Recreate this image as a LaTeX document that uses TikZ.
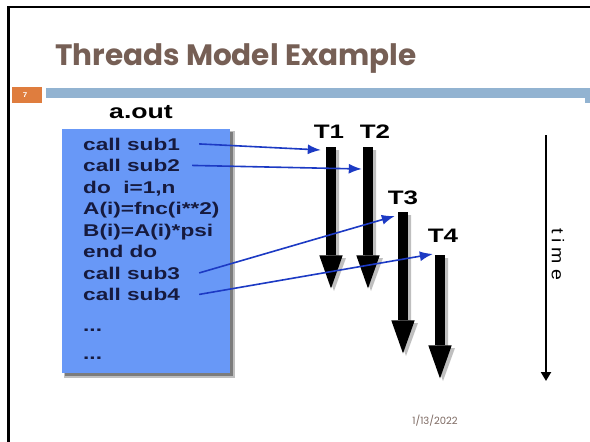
\documentclass[tikz,border=0pt]{standalone}
\usepackage{fontspec}
\setmainfont{Liberation Sans}
\newfontfamily\codefont[FakeStretch=1.33]{Liberation Sans}
\newfontfamily\plainfont[FakeStretch=1.15]{Liberation Sans}
\newfontfamily\titlefont{Poppins}
\usetikzlibrary{arrows.meta,calc}
\definecolor{titlebrown}{RGB}{118,95,85}
\definecolor{datebrown}{RGB}{125,105,98}
\definecolor{orangeseven}{RGB}{223,125,62}
\definecolor{barblue}{RGB}{146,179,209}
\definecolor{boxblue}{RGB}{104,152,247}
\definecolor{codenavy}{RGB}{22,26,62}
\definecolor{callblue}{RGB}{28,58,196}
\tikzset{
  codeline/.style={anchor=base west, inner sep=0pt, text=codenavy,
    font=\codefont\bfseries\fontsize{17}{20}\selectfont},
  tlabel/.style={inner sep=0pt, text=black,
    font=\codefont\bfseries\fontsize{19.5}{22}\selectfont},
  callline/.style={draw=callblue, line width=1.6pt,
    -{Latex[length=13pt,width=10pt]}},
  shaft/.style={fill=black, inner sep=0pt, minimum width=10pt, anchor=north},
  shaftshadow/.style={fill=black, opacity=0.25},
}
\begin{document}
\begin{tikzpicture}[x=1pt,y=-1pt]
\useasboundingbox (0,0) rectangle (590,442);
\fill[white] (0,0) rectangle (590,442);
% slide frame
\draw[line width=2.5pt] (8.5,442) -- (8.5,7) -- (590,7);
% title
\node[anchor=base west, inner sep=0pt, text=titlebrown,
  font=\titlefont\bfseries\fontsize{29.5}{33}\selectfont] (title) at (55,65) {Threads Model Example};
% slide number and bar
\fill[orangeseven] (12,87) rectangle (42,103);
\node[text=white, font=\plainfont\bfseries\fontsize{7}{8}\selectfont] (num) at (25,95) {7};
\fill[barblue] (46,88) rectangle (590,98);
\fill[barblue] (585,98) rectangle (590,103);
% program box
\fill[black, opacity=0.25] (64,131) rectangle (235,378);
\fill[black, opacity=0.35] (65,132) rectangle (233,376);
\node[fill=boxblue, inner sep=0pt, anchor=north west, minimum width=168pt, minimum height=244pt] (box) at (62,129) {};
\node[anchor=base, inner sep=0pt, text=black,
  font=\codefont\bfseries\fontsize{20}{24}\selectfont] (aout) at (141,118) {a.out};
\node[codeline] (c1) at (83,150) {call sub1};
\node[codeline] (c2) at (83,171.5) {call sub2};
\node[codeline] (c3) at (83,193) {do~ i=1,n};
\node[codeline] (c4) at (83,214.5) {A(i)=fnc(i**2)};
\node[codeline] (c5) at (83,236) {B(i)=A(i)*psi};
\node[codeline] (c6) at (83,257.5) {end do};
\node[codeline] (c7) at (83,279) {call sub3};
\node[codeline] (c8) at (83,300.5) {call sub4};
\node[codeline] (c9) at (83,331) {...};
\node[codeline] (c10) at (83,359) {...};
% thread arrows: shadows
\foreach \x/\yt/\yh in {331/147/255, 368/147/255, 403/212/320, 440/255/345}{
  \fill[shaftshadow] (\x-3,\yt+3) -- (\x+8,\yt+3) -- (\x+8,\yh+3) -- (\x+15,\yh+3)
    -- (\x+3,\yh+36) -- (\x-9,\yh+3) -- (\x-3,\yh+3) -- cycle;
}
% thread arrows
\node[shaft, minimum height=108pt] (s1) at (331,147) {};
\node[shaft, minimum height=108pt] (s2) at (368,147) {};
\node[shaft, minimum height=108pt] (s3) at (403,212) {};
\node[shaft, minimum height=90pt] (s4) at (440,255) {};
\foreach \s in {s1,s2,s3,s4}{
  \fill (\s.south west) -- ++(-6.5,0) -- ($(\s.south)+(0,33)$) -- ($(\s.south east)+(6.5,0)$) -- cycle;
}
\node[tlabel] (t1) at (329,132) {T1};
\node[tlabel] (t2) at (375,132) {T2};
\node[tlabel] (t3) at (403,198) {T3};
\node[tlabel] (t4) at (443,236) {T4};
% call connectors
\coordinate (e1) at ($(s1.north west)+(-5,3)$);
\coordinate (e2) at ($(s2.north west)+(-1,22)$);
\coordinate (e3) at ($(s3.north west)+(-3,4)$);
\coordinate (e4) at ($(s4.north west)+(-2,-1)$);
\draw[callline] ([xshift=19pt]c1.east) -- (e1);
\draw[callline] ([xshift=12pt]c2.east) -- (e2);
\draw[callline] ([xshift=19pt]c7.east) -- (e3);
\draw[callline] ([xshift=19pt]c8.east) -- (e4);
% time axis
\coordinate (ttop) at (546,135);
\coordinate (tbot) at (546,381);
\draw[line width=2pt, -{Triangle[length=9pt,width=10pt]}] (ttop) -- (tbot);
\node[rotate=-90, inner sep=0pt, font=\plainfont\fontsize{17}{19}\selectfont] (timelbl) at (558,254) {t\hspace{5pt}i\hspace{5pt}m\hspace{5pt}e};
% date
\node[inner sep=0pt, text=datebrown, font=\titlefont\fontsize{10}{12}\selectfont] (date) at (435,421) {1/13/2022};
\end{tikzpicture}
\end{document}
